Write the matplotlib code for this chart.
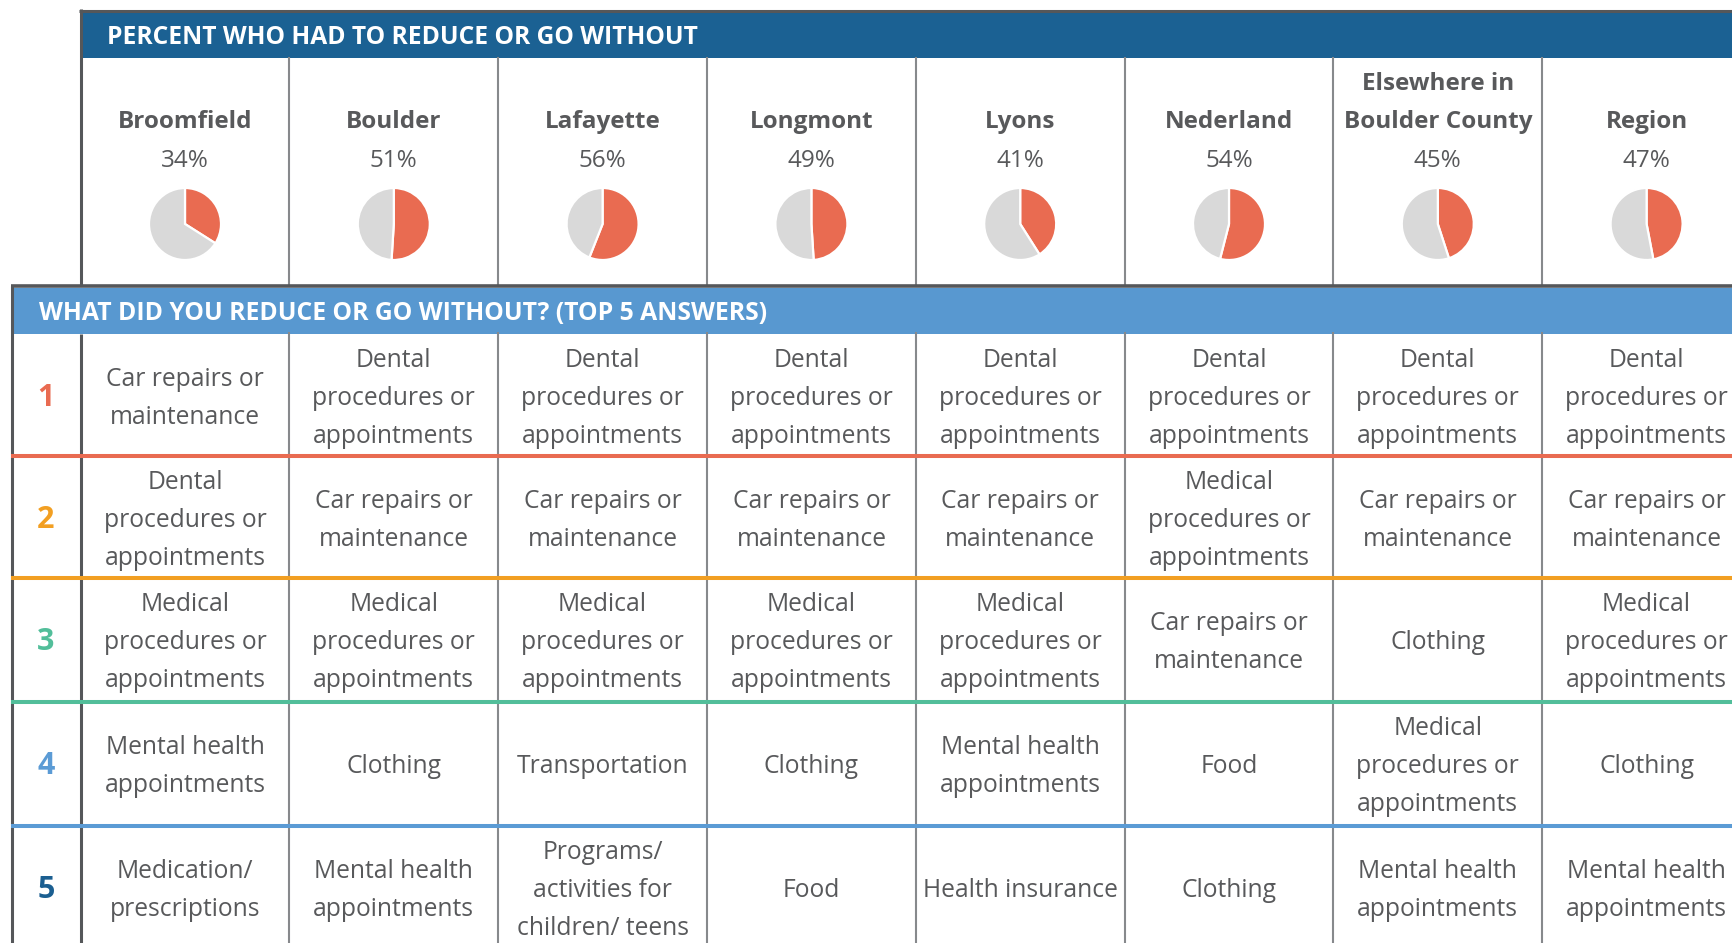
import matplotlib
matplotlib.use("Agg")
import matplotlib.pyplot as plt
from matplotlib.patches import Rectangle

# ---------------- data ----------------
cities = ["Broomfield", "Boulder", "Lafayette", "Longmont", "Lyons",
          "Nederland", "Elsewhere in\nBoulder County", "Region"]
percents = [34, 51, 56, 49, 41, 54, 45, 47]
rank_labels = ["1", "2", "3", "4", "5"]

DENTAL = "Dental\nprocedures or\nappointments"
MEDICAL = "Medical\nprocedures or\nappointments"
CAR = "Car repairs or\nmaintenance"
MENTAL = "Mental health\nappointments"

rank1 = [CAR, DENTAL, DENTAL, DENTAL, DENTAL, DENTAL, DENTAL, DENTAL]
rank2 = [DENTAL, CAR, CAR, CAR, CAR, MEDICAL, CAR, CAR]
rank3 = [MEDICAL, MEDICAL, MEDICAL, MEDICAL, MEDICAL, CAR, "Clothing", MEDICAL]
rank4 = [MENTAL, "Clothing", "Transportation", "Clothing", MENTAL, "Food",
         MEDICAL, "Clothing"]
rank5 = ["Medication/\nprescriptions", MENTAL,
         "Programs/\nactivities for\nchildren/ teens", "Food",
         "Health insurance", "Clothing", MENTAL, MENTAL]
answers = [rank1, rank2, rank3, rank4, rank5]

title_top = "PERCENT WHO HAD TO REDUCE OR GO WITHOUT"
title_bottom = "WHAT DID YOU REDUCE OR GO WITHOUT? (TOP 5 ANSWERS)"

# ---------------- style ----------------
W, H = 1732, 943
DARK_BLUE = "#1b6193"
LIGHT_BLUE = "#5898d0"
BORDER = "#55575a"
COLLINE = "#87898c"
TEXT = "#58595b"
PIE_RED = "#e96b51"
PIE_GRAY = "#d9d9d9"
rank_colors = ["#e96b51", "#f29f22", "#52be9a", "#5b9bd5", "#1b5f91"]

FONT = ["Open Sans", "DejaVu Sans"]
plt.rcParams["font.family"] = FONT

fig = plt.figure(figsize=(W / 100, H / 100), dpi=100)
ax = fig.add_axes([0, 0, 1, 1])
ax.set_axis_off()

TOFF = 3.0  # text vertical offset (px)


def Y(y):
    return H - y


def YT(y):
    return H - (y + TOFF)


x0 = 80.6
col_w = 208.8
left_x = 12
ncol = len(cities)
col_edges = [x0 + col_w * k for k in range(ncol + 1)]
col_centers = [x0 + col_w * (k + 0.5) for k in range(ncol)]

top_border_y = 10.5
top_band = (12, 58)
sec_top = 286
band2 = (287.5, 334)
row_tops = [334, 456, 578, 702, 826]
row_h = 123
line_px = 38

# header bands
ax.add_patch(Rectangle((x0, Y(top_band[1])), W, top_band[1] - top_band[0],
                       color=DARK_BLUE, lw=0, zorder=1))
ax.add_patch(Rectangle((left_x, Y(band2[1])), W, band2[1] - band2[0],
                       color=LIGHT_BLUE, lw=0, zorder=1))

# column lines top section
for xe in col_edges[1:]:
    ax.plot([xe, xe], [Y(57), Y(sec_top)], color=COLLINE, lw=1.5,
            solid_capstyle="butt", zorder=2)
# column lines bottom section
for xe in col_edges[1:]:
    ax.plot([xe, xe], [Y(band2[1] - 2), Y(H + 10)], color=COLLINE, lw=1.5,
            solid_capstyle="butt", zorder=2)

# dark borders
ax.plot([x0 - 1.5, W], [Y(top_border_y), Y(top_border_y)], color=BORDER,
        lw=2.2, solid_capstyle="butt", zorder=3)
ax.plot([x0, x0], [Y(9), Y(sec_top)], color=BORDER, lw=2.2,
        solid_capstyle="butt", zorder=3)
ax.plot([left_x - 1.5, W], [Y(sec_top), Y(sec_top)], color=BORDER, lw=2.6,
        solid_capstyle="butt", zorder=3)
ax.plot([left_x, left_x], [Y(sec_top), Y(H + 10)], color=BORDER, lw=2.2,
        solid_capstyle="butt", zorder=3)
ax.plot([x0, x0], [Y(band2[1]), Y(H + 10)], color=BORDER, lw=2.2,
        solid_capstyle="butt", zorder=3)

# colored row separators
for r in range(4):
    yb = row_tops[r + 1]
    ax.plot([left_x - 1.5, W], [Y(yb), Y(yb)], color=rank_colors[r], lw=2.9,
            solid_capstyle="butt", zorder=4)

# header texts
ax.text(107, YT(34), title_top, color="white", fontsize=17.7,
        fontweight="bold", ha="left", va="center", zorder=5)
ax.text(39, YT(310.5), title_bottom, color="white", fontsize=17.8,
        fontweight="bold", ha="left", va="center", zorder=5)


def multiline(xc, yc, txt, **kw):
    lines = txt.split("\n")
    n = len(lines)
    for i, ln in enumerate(lines):
        yy = yc + (i - (n - 1) / 2) * line_px
        ax.text(xc, YT(yy), ln, ha="center", va="center", zorder=5, **kw)


# city names, percents, pies
for k, (name, p) in enumerate(zip(cities, percents)):
    xc = col_centers[k]
    n = len(name.split("\n"))
    multiline(xc, 119 - (n - 1) * line_px / 2, name, color=TEXT,
              fontsize=17.5, fontweight="bold")
    ax.text(xc, YT(158), f"{p}%", color=TEXT, fontsize=17.5, ha="center",
            va="center", zorder=5)
    ax.pie([p, 100 - p], colors=[PIE_RED, PIE_GRAY], startangle=90,
           counterclock=False, center=(xc, Y(224)), radius=36,
           wedgeprops=dict(edgecolor="white", linewidth=1.6), frame=True)

# ranks and answers
for r, row in enumerate(answers):
    yc = row_tops[r] + row_h / 2
    ax.text(46, YT(yc), rank_labels[r], color=rank_colors[r], fontsize=22,
            fontweight="bold", ha="center", va="center", zorder=5)
    for k, txt in enumerate(row):
        multiline(col_centers[k], yc, txt, color=TEXT, fontsize=17.7)

ax.set_xlim(0, W)
ax.set_ylim(0, H)
ax.set_aspect("auto")
ax.set_axis_off()
fig.savefig("out.png", dpi=100, facecolor="white")
